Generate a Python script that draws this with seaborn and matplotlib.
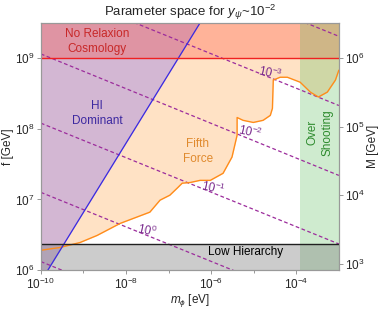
import numpy as np
import matplotlib
matplotlib.use("Agg")
import matplotlib.pyplot as plt
import seaborn as sns
from matplotlib.ticker import FixedLocator, LogFormatterMathtext, NullFormatter

# data (log10 values)
# fifth force bound: log m [eV], log f [GeV]
ff_logm = [-10.0, -9.55, -9.08, -8.68, -8.14, -7.44, -7.20, -6.97, -6.78, -6.68, -6.49,
           -6.26, -6.02, -5.72, -5.51, -5.39, -5.39, -5.25, -5.01, -4.78, -4.61, -4.56,
           -4.54, -4.38, -4.21, -3.91, -3.67, -3.48, -3.27, -3.08, -3.0]
ff_logf = [6.28, 6.32, 6.39, 6.49, 6.66, 6.82, 6.99, 7.06, 7.17, 7.23, 7.24,
           7.27, 7.27, 7.37, 7.60, 7.91, 8.16, 8.12, 8.09, 8.12, 8.19, 8.29,
           8.69, 8.73, 8.73, 8.66, 8.52, 8.45, 8.52, 8.69, 8.83]

# HI dominant boundary (blue line)
hi_logm = [-9.835, -6.26]
hi_logf = [6.0, 9.5]

# y_psi contour lines: value, log f at m=1e-10 and at m=1e-3
ypsi_exp = [-4, -3, -2, -1, 0, 1]
ypsi_f_left = [11.02, 10.04, 9.06, 8.08, 7.10, 6.12]
ypsi_f_right = [9.31, 8.33, 7.34, 6.37, 5.39, 4.40]

# contour labels: exponent, log m, log f
lab_exp = [-3, -2, -1, 0]
lab_logm = [-4.61, -5.08, -5.95, -7.5]
lab_logf = [8.79, 7.95, 7.16, 6.56]

f_cosmo = 1e9          # no relaxion cosmology above
f_lowhier = 10**6.376  # low hierarchy below
m_overshoot = 10**-3.906  # over shooting right of

xlim = (1e-10, 1e-3)
ylim = (1e6, 10**9.5)
# f vs M on the right axis: log f - 9 = 0.97 (log M - 6)
k_fm = 0.97

sns.set_style("ticks")
plt.rcParams["font.family"] = ["Liberation Sans", "DejaVu Sans"]
plt.rcParams["mathtext.fontset"] = "custom"
plt.rcParams["mathtext.rm"] = "Liberation Sans"
plt.rcParams["mathtext.it"] = "Liberation Sans:italic"

fig = plt.figure(figsize=(3.82, 3.09), dpi=100)
ax = fig.add_axes([0.107, 0.126, 0.780, 0.800])
ax.set_xscale("log")
ax.set_yscale("log")

ff_m = 10 ** np.array(ff_logm)
ff_f = 10 ** np.array(ff_logf)

# fifth force region
ax.fill_between(ff_m, ff_f, ylim[1], color="#FFA040", alpha=0.3, lw=0, zorder=1)
# HI dominant
hi_m = 10 ** np.array(hi_logm)
hi_f = 10 ** np.array(hi_logf)
ax.fill_betweenx(hi_f, xlim[0], hi_m, color="#CDB2D6", alpha=0.88, lw=0, zorder=2)
# no relaxion cosmology
ax.fill_between(xlim, f_cosmo, ylim[1], color="#FF3C28", alpha=0.28, lw=0, zorder=3)
# over shooting
ax.fill_between([m_overshoot, xlim[1]], ylim[0], ylim[1], color="#60C060", alpha=0.3, lw=0, zorder=3)
# low hierarchy
ax.fill_between(xlim, ylim[0], f_lowhier, color="#808080", alpha=0.4, lw=0, zorder=3)

# lines
sns.lineplot(x=ff_m, y=ff_f, sort=False, estimator=None, color="#FF8C1A", lw=1.0, ax=ax, zorder=5)
sns.lineplot(x=hi_m, y=hi_f, sort=False, estimator=None, color="#3A2AE0", lw=0.9, ax=ax, zorder=5)
ax.axhline(f_cosmo, color="#F02020", lw=1.0, zorder=5)
ax.axhline(f_lowhier, color="#202020", lw=1.0, zorder=5)

for fl, fr in zip(ypsi_f_left, ypsi_f_right):
    sns.lineplot(x=list(xlim), y=[10**fl, 10**fr], color="#9C2C9C", lw=0.9,
                 ax=ax, zorder=4, linestyle=(0, (3, 2)))

for e, lm, lf in zip(lab_exp, lab_logm, lab_logf):
    ax.text(10**lm, 10**lf, r"$10^{%d}$" % e, color="#7B2D8E", fontsize=8.5,
            rotation=-12, ha="center", va="center", style="italic", zorder=6)

ax.text(10**-8.68, 10**9.24, "No Relaxion\nCosmology", color="#C82828", fontsize=8.5,
        ha="center", va="center", linespacing=1.3, zorder=6)
ax.text(10**-8.68, 10**8.22, "HI\nDominant", color="#3C28A0", fontsize=8.5,
        ha="center", va="center", linespacing=1.3, zorder=6)
ax.text(10**-6.31, 10**7.68, "Fifth\nForce", color="#E08A2E", fontsize=8.5,
        ha="center", va="center", linespacing=1.3, zorder=6)
ax.text(10**-3.44, 10**7.95, "Over\nShooting", color="#2E8B2E", fontsize=8.5,
        ha="center", va="center", rotation=90, linespacing=1.3, zorder=6)
ax.text(10**-5.2, 10**6.25, "Low Hierarchy", color="black", fontsize=8.5,
        ha="center", va="center", zorder=6)

ax.set_xlim(xlim)
ax.set_ylim(ylim)
ax.xaxis.set_major_locator(FixedLocator([1e-10, 1e-8, 1e-6, 1e-4]))
ax.xaxis.set_minor_locator(FixedLocator([1e-9, 1e-7, 1e-5]))
ax.xaxis.set_minor_formatter(NullFormatter())
ax.yaxis.set_major_locator(FixedLocator([1e6, 1e7, 1e8, 1e9]))
ax.yaxis.set_minor_locator(FixedLocator([]))
ax.xaxis.set_major_formatter(LogFormatterMathtext())
ax.yaxis.set_major_formatter(LogFormatterMathtext())

ax2 = ax.twinx()
ax2.set_yscale("log")
ax2.set_ylim(10 ** (6 + (np.log10(ylim[0]) - 9) / k_fm), 10 ** (6 + (np.log10(ylim[1]) - 9) / k_fm))
ax2.yaxis.set_major_locator(FixedLocator([1e3, 1e4, 1e5, 1e6]))
ax2.yaxis.set_minor_locator(FixedLocator([]))
ax2.yaxis.set_major_formatter(LogFormatterMathtext())

for a in (ax, ax2):
    for s in a.spines.values():
        s.set_color("#999999")
        s.set_linewidth(0.8)
    a.tick_params(which="both", labelsize=8.5, length=3, width=0.6, color="#888888", pad=1.5)
    a.tick_params(which="minor", length=2)

ax.set_xlabel(r"$m_\phi$ [eV]", fontsize=8.5, labelpad=0)
ax.set_ylabel("f [GeV]", fontsize=8.5, labelpad=1)
ax2.set_ylabel("M [GeV]", fontsize=8.5, labelpad=2)
ax.set_title(r"Parameter space for $y_\psi$~$10^{-2}$", fontsize=9.5, pad=5)

fig.savefig("out.png", dpi=100)
